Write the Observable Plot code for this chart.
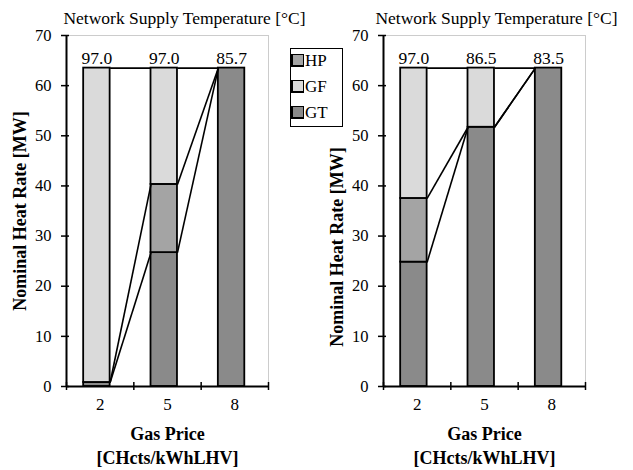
<!DOCTYPE html>
<html>
<head>
<meta charset="utf-8">
<script src="https://cdn.jsdelivr.net/npm/d3@7"></script>
<script src="https://cdn.jsdelivr.net/npm/@observablehq/plot@0.6"></script>
<style>
  body { margin: 0; background: white; }
  #wrap { position: relative; width: 633px; height: 470px; font-family: "Liberation Serif", "Times New Roman", serif; }
  #wrap svg text { font-family: "Liberation Serif", "Times New Roman", serif; }
  .chart { position: absolute; top: 0; }
  #legend { position: absolute; left: 290px; top: 48px; width: 51px; height: 77px; border: 1.5px solid black; background: white; }
  .item { position: absolute; left: 0; font-size: 17px; line-height: 17px; height: 17px; white-space: nowrap; }
  .sw { display: inline-block; box-sizing: border-box; width: 13px; height: 13px; border: 1px solid black; border-left-width: 2.5px; border-bottom-width: 2px; vertical-align: -1px; margin-right: 1px; }
</style>
</head>
<body>
<div id="wrap"></div>
<script>
const prices = ["2", "5", "8"];
const seriesNames = ["GT", "HP", "GF"];
const legendOrder = ["HP", "GF", "GT"];
const yTicks = [0, 10, 20, 30, 40, 50, 60, 70];
const title = "Network Supply Temperature [°C]";
const yLabel = "Nominal Heat Rate [MW]";
const xLabel1 = "Gas Price";
const xLabel2 = "[CHcts/kWhLHV]";

// left chart
const leftTemps = [97.0, 97.0, 85.7];
const leftGT = [0.8, 26.7, 63.5];
const leftHP = [0, 13.6, 0];
const leftGF = [62.7, 23.2, 0];
// right chart
const rightTemps = [97.0, 86.5, 83.5];
const rightGT = [24.8, 51.7, 63.5];
const rightHP = [12.7, 0, 0];
const rightGF = [26.0, 11.8, 0];

const colors = {GT: "#8a8a8a", HP: "#a4a4a4", GF: "#dadada"};
const BL = 0.255, BR = 0.648;
const FONT = "Liberation Serif";

function chart(temps, gt, hp, gf, titleDx, yLabelDy) {
  const series = [["GT", gt], ["HP", hp], ["GF", gf]];
  const segs = [], tops = {};
  prices.forEach((p, i) => {
    let base = 0;
    for (const [name, arr] of series) {
      const v = arr[i];
      segs.push({i, name, y1: base, y2: base + v});
      base += v;
      (tops[name] = tops[name] || [])[i] = base;
    }
  });
  const links = [];
  for (const [name] of series)
    for (let i = 0; i < prices.length - 1; i++)
      links.push({x1: i + BR, y1: tops[name][i], x2: i + 1 + BL, y2: tops[name][i + 1]});
  const labels = prices.map((p, i) => ({i, total: tops.GF[i], t: temps[i].toFixed(1)}));
  return Plot.plot({
    width: 316, height: 470,
    marginLeft: 66, marginRight: 48, marginTop: 35, marginBottom: 84,
    style: {fontFamily: FONT, fontSize: "16px", color: "black", background: "transparent"},
    x: {domain: [0, 3]},
    y: {domain: [0, 70]},
    color: {domain: seriesNames, range: seriesNames.map(s => colors[s])},
    marks: [
      Plot.frame({stroke: "#999", strokeDasharray: "1,1"}),
      Plot.rect(segs.filter(d => d.y2 > d.y1), {x1: d => d.i + BL, x2: d => d.i + BR, y1: "y1", y2: "y2", fill: "name", stroke: "black", strokeWidth: 1.8}),
      Plot.link(links, {x1: "x1", y1: "y1", x2: "x2", y2: "y2", stroke: "black", strokeWidth: 1.6}),
      Plot.text(labels, {x: d => d.i + (BL + BR) / 2, y: "total", text: "t", dy: -10, fontSize: 17.5, fontFamily: FONT}),
      Plot.ruleX([0], {stroke: "black", strokeWidth: 2}),
      Plot.ruleY([0], {stroke: "black", strokeWidth: 2}),
      Plot.axisY(yTicks, {tickSize: 8, dx: 3, tickFormat: () => "", strokeWidth: 1.5, label: null}),
      Plot.axisY(yTicks, {tickSize: 0, tickPadding: 15, fontSize: 16.5, fontFamily: FONT, label: null}),
      Plot.axisX([0, 1, 2, 3], {tickSize: 8, dy: -4, tickFormat: () => "", strokeWidth: 1.5, label: null}),
      Plot.axisX([0.5, 1.5, 2.5], {tickSize: 0, tickPadding: 11, fontSize: 17, fontFamily: FONT, tickFormat: v => prices[Math.floor(v)], label: null}),
      Plot.text([yLabel], {frameAnchor: "left", rotate: -90, textAnchor: "middle", lineAnchor: "middle", dx: -46, dy: yLabelDy, fontWeight: "bold", fontSize: 18, fontFamily: FONT}),
      Plot.text([title], {frameAnchor: "top", textAnchor: "middle", lineAnchor: "middle", dy: -17, dx: titleDx, fontSize: 17.5, fontFamily: FONT}),
      Plot.text([xLabel1], {frameAnchor: "bottom", textAnchor: "middle", lineAnchor: "middle", dy: 48, fontWeight: "bold", fontSize: 18, fontFamily: FONT}),
      Plot.text([xLabel2], {frameAnchor: "bottom", textAnchor: "middle", lineAnchor: "middle", dy: 72, fontWeight: "bold", fontSize: 18, fontFamily: FONT})
    ]
  });
}

const wrap = document.getElementById("wrap");
const c1 = chart(leftTemps, leftGT, leftHP, leftGF, 17, 0);
c1.classList.add("chart"); c1.style.left = "0px";
const c2 = chart(rightTemps, rightGT, rightHP, rightGF, 12, 36);
c2.classList.add("chart"); c2.style.left = "317px";
wrap.appendChild(c1);
wrap.appendChild(c2);

const legend = document.createElement("div");
legend.id = "legend";
const rowTops = [3, 29, 55];
legendOrder.forEach((s, k) => {
  const it = document.createElement("div");
  it.className = "item";
  it.style.top = rowTops[k] + "px";
  it.innerHTML = `<span class="sw" style="background:${colors[s]}"></span>${s}`;
  legend.appendChild(it);
});
wrap.appendChild(legend);
</script>
</body>
</html>
